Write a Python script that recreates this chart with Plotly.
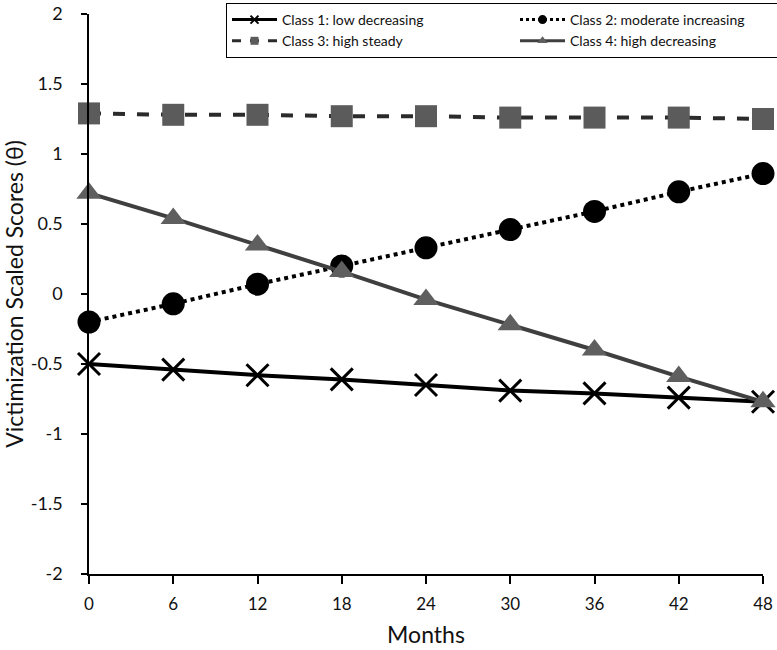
import plotly.graph_objects as go

months = [0, 6, 12, 18, 24, 30, 36, 42, 48]
class1 = [-0.50, -0.54, -0.58, -0.61, -0.65, -0.69, -0.71, -0.74, -0.77]
class2 = [-0.20, -0.07, 0.07, 0.20, 0.33, 0.46, 0.59, 0.73, 0.86]
class3 = [1.29, 1.28, 1.28, 1.27, 1.27, 1.26, 1.26, 1.26, 1.25]
class4 = [0.72, 0.54, 0.35, 0.16, -0.04, -0.22, -0.40, -0.59, -0.77]
names = ["Class 1: low decreasing", "Class 2: moderate increasing",
         "Class 3: high steady", "Class 4: high decreasing"]
y_tickvals = [-2, -1.5, -1, -0.5, 0, 0.5, 1, 1.5, 2]
y_ticktext = ["-2", "-1.5", "-1", "-0.5", "0", "0.5", "1", "1.5", "2"]

FONT = "Lato"
W, H = 777, 650

styles = [
    dict(line=dict(color="#000000", width=4, dash="solid"),
         marker=dict(symbol="x-thin", size=22, color="#000000", line=dict(color="#000000", width=3)),
         lmarker=dict(symbol="x-thin", size=8, color="#000000", line=dict(color="#000000", width=2))),
    dict(line=dict(color="#000000", width=4, dash="dot"),
         marker=dict(symbol="circle", size=23, color="#000000"),
         lmarker=dict(symbol="circle", size=9, color="#000000")),
    dict(line=dict(color="#2b2b2b", width=4, dash="dash"),
         marker=dict(symbol="square", size=22, color="#5b5b5b"),
         lmarker=dict(symbol="square", size=8, color="#5b5b5b")),
    dict(line=dict(color="#3f3f3f", width=4, dash="solid"),
         marker=dict(symbol="triangle-up", size=22, color="#5f5f5f"),
         lmarker=dict(symbol="triangle-up", size=9, color="#5f5f5f")),
]
series = [class1, class2, class3, class4]

fig = go.Figure()
for s, st in zip(series, styles):
    fig.add_trace(go.Scatter(x=months, y=s, mode="lines+markers",
                             line=st["line"], marker=st["marker"],
                             cliponaxis=False, showlegend=False))
for name, st in zip(names, styles):
    fig.add_trace(go.Scatter(x=[None], y=[None], mode="lines+markers", name=name,
                             line=dict(color=st["line"]["color"], width=3, dash=st["line"]["dash"]),
                             marker=st["lmarker"], showlegend=True))

fig.update_layout(
    width=W, height=H,
    margin=dict(l=89, r=14, t=14, b=76, autoexpand=False),
    paper_bgcolor="white", plot_bgcolor="white",
    font=dict(family=FONT, color="#111111", size=17),
    legend=dict(orientation="h", xref="container", yref="container",
                x=226 / W, xanchor="left", y=1 - 3 / H, yanchor="top",
                bordercolor="#000000", borderwidth=1, bgcolor="white",
                font=dict(family=FONT, size=14, color="#111111"),
                itemwidth=45, entrywidth=228, entrywidthmode="pixels",
                traceorder="normal", tracegroupgap=0),
    xaxis=dict(range=[0, 48], tickvals=months, showgrid=False, zeroline=False,
               showline=True, linecolor="#000000", linewidth=1.5,
               ticks="outside", ticklen=8, tickwidth=1.5, tickcolor="#000000",
               tickfont=dict(size=17), ticklabelstandoff=6, ticklabeloverflow="allow",
               title=dict(text="Months", font=dict(size=23), standoff=14)),
    yaxis=dict(range=[-2, 2], tickvals=y_tickvals, ticktext=y_ticktext, showgrid=False,
               zeroline=False, showline=True, linecolor="#000000", linewidth=1.5,
               ticks="outside", ticklen=6, tickwidth=1.5, tickcolor="#000000",
               tickfont=dict(size=18), ticklabelstandoff=15, ticklabeloverflow="allow",
               title=dict(text="Victimization Scaled Scores (θ)", font=dict(size=23), standoff=1)),
)

fig.write_html("out.html", config={"displayModeBar": False},
               post_script="document.body.style.margin='0';")
